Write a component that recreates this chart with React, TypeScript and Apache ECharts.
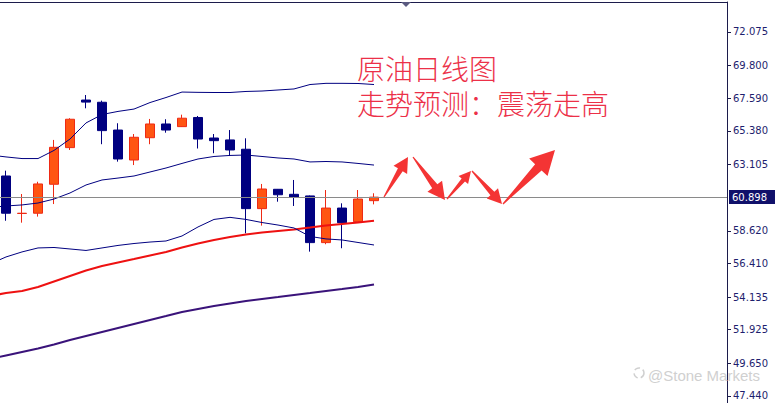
import React, { useEffect, useRef } from "react";
import * as echarts from "echarts";

// Daily candles (index = trading day)
const dayIndex = [0, 1, 2, 3, 4, 5, 6, 7, 8, 9, 10, 11, 12, 13, 14, 15, 16, 17, 18, 19, 20, 21, 22, 23];
const opens = [62.33, 59.79, 59.81, 61.77, 64.25, 67.47, 67.32, 65.44, 63.41, 64.92, 65.85, 65.67, 66.29, 64.9, 64.77, 64.14, 60.12, 61.43, 61.09, 60.98, 57.82, 60.16, 59.24, 60.66];
const closes = [59.81, 59.81, 61.79, 64.27, 66.17, 67.33, 65.4, 63.48, 64.95, 65.85, 65.44, 66.24, 64.83, 64.72, 64.09, 60.12, 61.45, 61.06, 60.89, 57.82, 60.16, 59.17, 60.77, 60.898];
const lows = [59.3, 59.17, 59.58, 60.43, 64.09, 66.91, 64.48, 63.3, 63.07, 64.48, 65.26, 65.65, 64.19, 63.87, 63.68, 58.45, 58.97, 60.59, 60.3, 57.21, 57.71, 57.44, 59.24, 60.41];
const highs = [62.69, 61.11, 61.94, 64.77, 66.24, 67.81, 67.43, 65.9, 65.17, 66.19, 66.17, 66.48, 66.39, 65.17, 65.44, 64.88, 61.79, 61.45, 62.06, 61.01, 61.38, 60.48, 61.38, 61.16];

// Indicator lines (start one day before the first visible candle)
const lineDays = [-1, 0, 1, 2, 3, 4, 5, 6, 7, 8, 9, 10, 11, 12, 13, 14, 15, 16, 17, 18, 19, 20, 21, 22, 23];
const upperBand = [63.75, 63.62, 63.51, 63.51, 64.06, 64.83, 65.92, 66.49, 66.7, 66.86, 67.3, 67.64, 68.01, 67.99, 67.98, 67.98, 68.05, 68.08, 68.15, 68.22, 68.52, 68.6, 68.6, 68.59, 68.52];
const middleBand = [60.2, 60.3, 60.37, 60.5, 60.77, 61.18, 61.72, 62.06, 62.19, 62.33, 62.6, 62.87, 63.18, 63.48, 63.65, 63.72, 63.75, 63.65, 63.55, 63.48, 63.28, 63.31, 63.28, 63.18, 63.07];
const lowerBand = [56.37, 56.85, 57.19, 57.46, 57.49, 57.39, 57.29, 57.46, 57.63, 57.76, 57.86, 57.93, 58.27, 58.88, 59.39, 59.53, 59.39, 59.18, 59.01, 58.81, 58.24, 58.07, 58.0, 57.83, 57.66];
const maRed = [54.21, 54.41, 54.55, 54.82, 55.19, 55.56, 55.93, 56.24, 56.48, 56.71, 56.95, 57.19, 57.49, 57.76, 58.0, 58.2, 58.37, 58.51, 58.61, 58.71, 58.84, 58.98, 59.08, 59.18, 59.3];
const maPurple = [49.94, 50.18, 50.42, 50.66, 50.93, 51.23, 51.5, 51.77, 52.04, 52.31, 52.58, 52.85, 53.13, 53.33, 53.53, 53.7, 53.87, 54.01, 54.14, 54.28, 54.41, 54.55, 54.68, 54.82, 54.99];

const tickLabels = ["72.075", "69.800", "67.590", "65.380", "63.105", "58.620", "56.410", "54.135", "51.925", "49.650", "47.440"];
const currentPrice = 60.898;

const titleLines = ["原油日线图", "走势预测：震荡走高"];
const watermark = "@Stone Markets";

function arrowPoints(x1: number, y1: number, x2: number, y2: number) {
  const dx = x2 - x1, dy = y2 - y1;
  const len = Math.hypot(dx, dy);
  const ux = dx / len, uy = dy / len;
  const nx = -uy, ny = ux;
  const hl = len * 0.32, wh = len * 0.17, ws = len * 0.06, wt = 0.6;
  const bx = x2 - ux * hl, by = y2 - uy * hl;
  return [
    [x1 + nx * wt, y1 + ny * wt],
    [bx + nx * ws, by + ny * ws],
    [bx + nx * wh, by + ny * wh],
    [x2, y2],
    [bx - nx * wh, by - ny * wh],
    [bx - nx * ws, by - ny * ws],
    [x1 - nx * wt, y1 - ny * wt],
  ];
}

const arrowSegments = [
  [384, 197, 408, 157],
  [413, 157, 445, 200],
  [447, 199, 471, 171],
  [472, 171, 502, 204],
  [503, 204, 555, 150],
];

export default function App() {
  const ref = useRef<HTMLDivElement>(null);
  useEffect(() => {
    if (!ref.current) return;
    const chart = echarts.init(ref.current, null, { renderer: "svg" });
    const candleData = dayIndex.map((d, i) => [d, opens[i], closes[i], lows[i], highs[i]]);
    const mk = (arr: number[]) => lineDays.map((d, i) => [d, arr[i]]);
    const navy = "#000080";
    const lineBase = { type: "line", showSymbol: false, symbol: "none", silent: true, z: 3 } as any;
    chart.setOption({
      animation: false,
      backgroundColor: "#ffffff",
      grid: { left: 0, right: 49, top: 2, bottom: 0 },
      xAxis: {
        type: "value",
        position: "top",
        min: -0.375,
        max: 45.0625,
        axisLine: { show: true, onZero: false, lineStyle: { color: "#1c1c4c", width: 1 } },
        axisTick: { show: false },
        axisLabel: { show: false },
        splitLine: { show: false },
      },
      yAxis: {
        type: "value",
        position: "right",
        min: 46.966,
        max: 74.105,
        scale: true,
        axisLine: { show: true, onZero: false, lineStyle: { color: "#1c1c4c", width: 1 } },
        axisTick: {
          show: true,
          length: 4,
          inside: false,
          lineStyle: { color: "#1c1c4c" },
          customValues: tickLabels.map(Number),
        },
        axisLabel: {
          show: true,
          margin: 6,
          color: "#1e1e6e",
          fontFamily: "DejaVu Sans",
          fontSize: 10,
          lineHeight: 12,
          customValues: tickLabels.map(Number),
          formatter: (v: number) => v.toFixed(3),
        },
        splitLine: { show: false },
      },
      series: [
        {
          type: "candlestick",
          data: candleData,
          barWidth: 10,
          z: 2,
          itemStyle: {
            color: "#ff5512",
            color0: navy,
            borderColor: "#ee2a14",
            borderColor0: navy,
            borderWidth: 1,
          },
        },
        {
          ...lineBase,
          data: mk(maPurple),
          z: 1,
          lineStyle: { color: "#3a137a", width: 2 },
          markLine: {
            silent: true,
            symbol: "none",
            lineStyle: { color: "#8a8a8a", width: 1, type: "solid" },
            label: {
              show: true,
              position: "end",
              distance: 2,
              formatter: currentPrice.toFixed(3),
              color: "#ffffff",
              backgroundColor: "#10106a",
              fontFamily: "DejaVu Sans",
              fontSize: 10,
              padding: [2, 8, 2, 3],
            },
            data: [{ yAxis: currentPrice }],
          },
        },
        { ...lineBase, data: mk(maRed), lineStyle: { color: "#ee1111", width: 2 } },
        { ...lineBase, data: mk(upperBand), lineStyle: { color: navy, width: 1 } },
        { ...lineBase, data: mk(middleBand), lineStyle: { color: navy, width: 1 } },
        { ...lineBase, data: mk(lowerBand), lineStyle: { color: navy, width: 1 } },
      ],
      graphic: [
        {
          type: "polygon",
          shape: { points: [[401, 2], [411, 2], [406, 7]] },
          style: { fill: "#5a5a80" },
          z: 10,
        },
        ...arrowSegments.map((s) => ({
          type: "polygon",
          shape: { points: arrowPoints(s[0], s[1], s[2], s[3]) },
          style: { fill: "#f43434" },
          z: 10,
        })),
        {
          type: "text",
          x: 357,
          y: 85.5,
          style: {
            text: titleLines.join("\n"),
            fill: "#ec3048",
            fontFamily: "Noto Sans CJK SC",
            fontSize: 28,
            fontWeight: 300,
            lineHeight: 35,
            textVerticalAlign: "middle",
            textAlign: "left",
          },
          z: 10,
        },
        {
          type: "circle",
          shape: { cx: 639, cy: 373, r: 5 },
          style: { fill: "none", stroke: "#d0d0d0", lineWidth: 1.5, lineDash: [6, 3] },
          z: 1,
        },
        {
          type: "text",
          x: 648,
          y: 375,
          style: {
            text: watermark,
            fill: "#d0d0d0",
            fontFamily: "Liberation Sans",
            fontSize: 15,
            lineHeight: 14,
            textVerticalAlign: "middle",
            textAlign: "left",
          },
          z: 1,
        },
      ],
    });
    return () => chart.dispose();
  }, []);
  return (
    <div
      ref={ref}
      style={{ position: "fixed", left: 0, top: 0, width: 776, height: 403 }}
    />
  );
}
